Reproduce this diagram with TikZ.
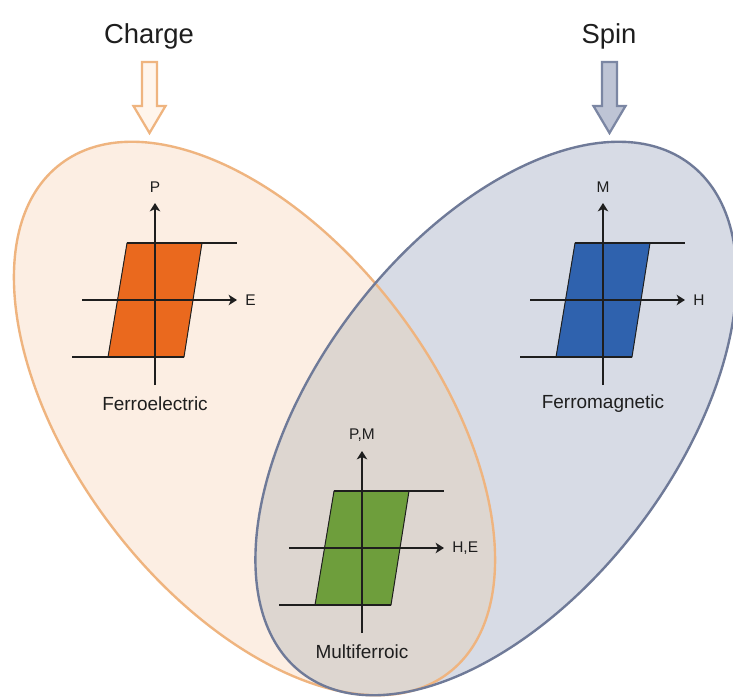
\documentclass[tikz,border=0pt]{standalone}
\usepackage{fontspec}
\setmainfont{Liberation Sans}
\usetikzlibrary{arrows.meta}
\definecolor{peach}{HTML}{FCEEE3}
\definecolor{peachline}{HTML}{EFB47F}
\definecolor{slatefill}{HTML}{D7DBE5}
\definecolor{slateline}{HTML}{6F7A98}
\definecolor{overlapfill}{HTML}{DDD6D0}
\definecolor{loopOrange}{HTML}{EA691E}
\definecolor{loopBlue}{HTML}{2F62AE}
\definecolor{loopGreen}{HTML}{6E9E3C}
\definecolor{chargeFill}{HTML}{FFF5EC}
\definecolor{spinFill}{HTML}{BEC4D5}
\definecolor{spinLine}{HTML}{7B86A3}
\definecolor{ink}{HTML}{1E1E1E}
\newcommand\hysloop[6]{%
  \begin{scope}[shift={(#1)}]
    \fill[#2] (-28,-57) -- (47,-57) -- (29,57) -- (-47,57) -- cycle;
    \draw[loopedge] (-28,-57) -- (47,-57) -- (29,57) -- (-47,57) -- cycle;
    \coordinate (#6-tl) at (-28,-57);
    \coordinate (#6-tr) at (82,-57);
    \coordinate (#6-bl) at (-83,57);
    \coordinate (#6-br) at (29,57);
    \coordinate (#6-xl) at (-73,0);
    \coordinate (#6-xr) at (82,0);
    \coordinate (#6-yb) at (0,85);
    \coordinate (#6-yt) at (0,-97);
    \draw[plateau] (#6-tl) -- (#6-tr);
    \draw[plateau] (#6-bl) -- (#6-br);
    \draw[axisline] (#6-xl) -- (#6-xr);
    \draw[axisline] (#6-yb) -- (#6-yt);
    \node[smalllabel] (#6-ylab) at (0,-113) {#3};
    \node[smalllabel, anchor=west] (#6-xlab) at (90,0) {#4};
    \node[caplabel] (#6-cap) at (0,104) {#5};
  \end{scope}}
\begin{document}
\begin{tikzpicture}[x=0.025cm,y=-0.025cm,
  loopedge/.style={draw=ink, line width=0.7pt, line join=miter},
  plateau/.style={draw=ink, line width=1.9pt},
  axisline/.style={draw=ink, line width=1.4pt, -{Stealth[length=6pt,width=7.5pt,inset=1.8pt]}},
  smalllabel/.style={text=ink, font=\fontsize{11}{13}\selectfont, inner sep=0pt},
  caplabel/.style={text=ink, font=\fontsize{13.5}{16}\selectfont, inner sep=0pt},
  titlelabel/.style={text=ink, font=\fontsize{19.5}{23}\selectfont, inner sep=0pt},
  blockarrow/.style={line width=1.6pt, line join=miter}]
\useasboundingbox (0,0) rectangle (733,698);
\fill[white] (0,0) rectangle (733,698);
\coordinate (oc) at (254.5,418.5);
\coordinate (bc) at (496,418.5);
% fills
\fill[peach, rotate around={-52.7:(oc)}] (oc) ellipse [x radius=320, y radius=179];
\fill[slatefill, rotate around={52.7:(bc)}] (bc) ellipse [x radius=320, y radius=179];
\begin{scope}
  \clip[rotate around={-52.7:(oc)}] (oc) ellipse [x radius=320, y radius=179];
  \fill[overlapfill, rotate around={52.7:(bc)}] (bc) ellipse [x radius=320, y radius=179];
\end{scope}
% outlines
\draw[peachline, line width=1.7pt, rotate around={-52.7:(oc)}] (oc) ellipse [x radius=320, y radius=179];
\draw[slateline, line width=1.7pt, rotate around={52.7:(bc)}] (bc) ellipse [x radius=320, y radius=179];
% titles and block arrows
\node[titlelabel] (charge) at (149,36) {Charge};
\node[titlelabel] (spin) at (609,36) {Spin};
\draw[blockarrow, draw=peachline, fill=chargeFill] (142,62) -- (157,62) -- (157,106) -- (165.5,106) -- (149.5,133) -- (133.5,106) -- (142,106) -- cycle;
\draw[blockarrow, draw=spinLine, fill=spinFill] (602,62) -- (617,62) -- (617,106) -- (625.5,106) -- (609.5,133) -- (593.5,106) -- (602,106) -- cycle;
% hysteresis loops
\hysloop{155,300}{loopOrange}{P}{E}{Ferroelectric}{fe}
\hysloop{603,300}{loopBlue}{M}{H}{Ferromagnetic}{fm}
\hysloop{362,548}{loopGreen}{P,M}{H,E}{Multiferroic}{mf}
\end{tikzpicture}
\end{document}
